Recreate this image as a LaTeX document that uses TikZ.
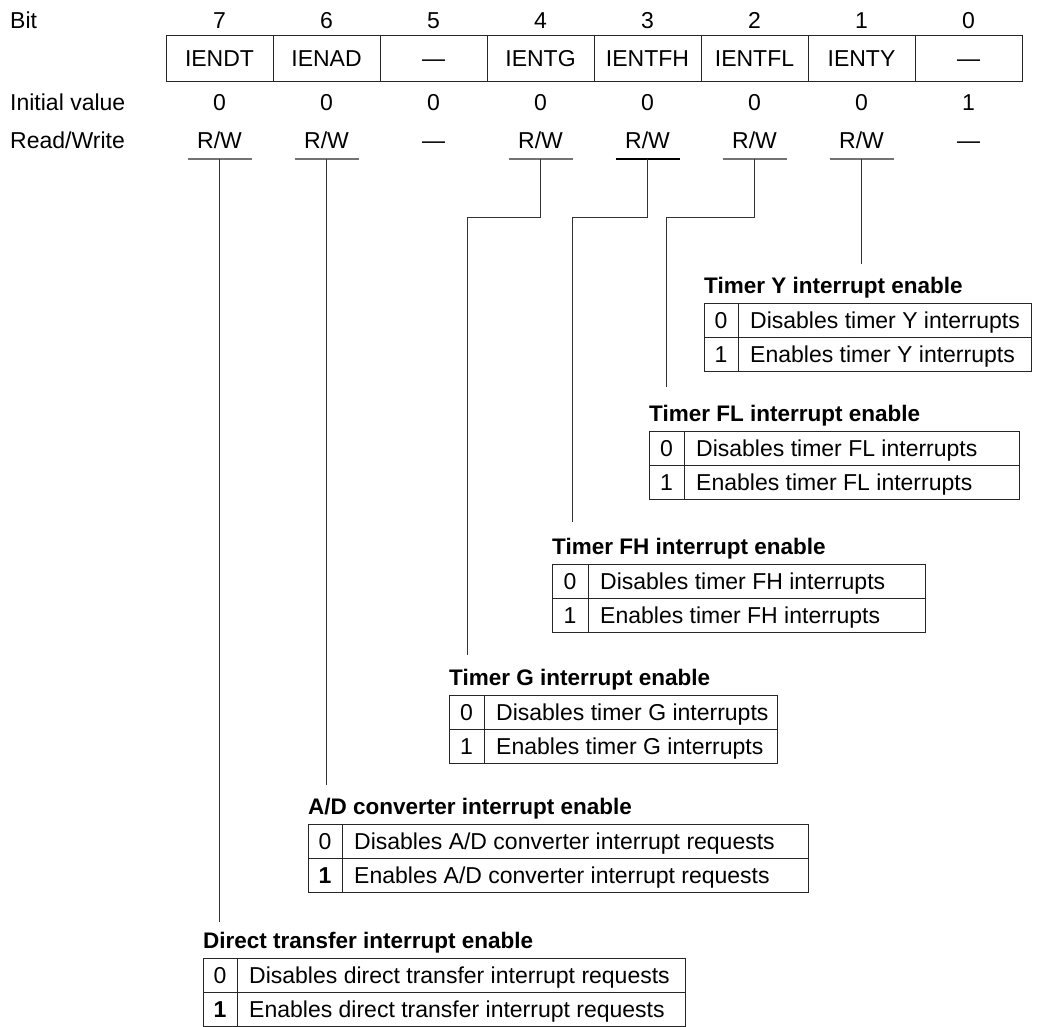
\documentclass[tikz,border=0pt]{standalone}
\usepackage{fontspec}
\setmainfont{Liberation Sans}

\tikzset{
  fnt/.style={font=\fontsize{23}{28}\selectfont, text height=16.5pt, text depth=0pt},
  txt/.style={fnt, inner sep=0pt},
  ttl/.style={font=\bfseries\fontsize{22.5}{27}\selectfont, inner sep=0pt},
  regcell/.style={fnt, draw=black!85, line width=1pt, outer sep=0pt, minimum width=107pt,
    minimum height=46pt, inner sep=0pt, anchor=north west},
  cell/.style={fnt, draw=black!85, line width=1pt, outer sep=0pt, minimum height=34pt,
    inner sep=0pt, anchor=north west},
  uline/.style={draw=black!55, line width=1.6pt},
  ulineK/.style={draw=black, line width=1.6pt},
  conn/.style={draw=black!80, line width=1pt},
}

% bit-description table: name, left, divider, right, top, title, text 0, text 1, value 1
\newcommand\enbox[9]{%
  \pgfmathsetmacro\nw{#3-#2}%
  \pgfmathsetmacro\dw{#4-#3}%
  \node[ttl, anchor=base west] (#1-t) at (#2,#5-10) {#6};
  \node[cell, minimum width=\nw pt] (#1-v0) at (#2,#5) {0};
  \node[cell, minimum width=\nw pt] (#1-v1) at (#1-v0.south west) {#9};
  \node[cell, minimum width=\dw pt] (#1-d0) at (#1-v0.north east) {};
  \node[cell, minimum width=\dw pt] (#1-d1) at (#1-v1.north east) {};
  \node[txt, anchor=west] (#1-x0) at ([xshift=12pt]#1-d0.west) {#7};
  \node[txt, anchor=west] (#1-x1) at ([xshift=12pt]#1-d1.west) {#8};
}

\begin{document}
\begin{tikzpicture}[x=1pt,y=-1pt]
\useasboundingbox[fill=white] (0,0) rectangle (1042,1026);

% row captions
\node[txt, anchor=west] (cap-bit) at (10,20) {Bit};
\node[txt, anchor=west] (cap-init) at (10,102) {Initial value};
\node[txt, anchor=west] (cap-rw) at (10,140) {Read/Write};

% register cells, bit 7 on the left
\foreach \b/\nm/\iv/\rw [count=\i from 0] in
  {7/IENDT/0/{R/W}, 6/IENAD/0/{R/W}, 5/—/0/—, 4/IENTG/0/{R/W},
   3/IENTFH/0/{R/W}, 2/IENTFL/0/{R/W}, 1/IENTY/0/{R/W}, 0/—/1/—}{
  \node[regcell] (r\b) at (166+107*\i,35) {\nm};
  \node[txt] (n\b) at (r\b.north |- 0,20) {\b};
  \node[txt] (i\b) at (r\b.north |- 0,102) {\iv};
  \node[txt] (w\b) at (r\b.north |- 0,140) {\rw};
}

% underlines below the R/W entries
\foreach \b in {7,6,4,3,2,1}{
  \coordinate (u\b) at (r\b.north |- 0,159);
}
\foreach \b in {7,6,4,2,1}{
  \draw[uline] ([xshift=-32pt]u\b) -- ([xshift=32pt]u\b);
}
\draw[ulineK] ([xshift=-32pt]u3) -- ([xshift=32pt]u3);

% description tables
\enbox{ty}{704}{738}{1031}{303}{Timer Y interrupt enable}{Disables timer Y interrupts}{Enables timer Y interrupts}{1}
\enbox{tfl}{649}{684}{1019}{431}{Timer FL interrupt enable}{Disables timer FL interrupts}{Enables timer FL interrupts}{1}
\enbox{tfh}{552}{588}{925}{564}{Timer FH interrupt enable}{Disables timer FH interrupts}{Enables timer FH interrupts}{1}
\enbox{tg}{449}{484}{777}{695}{Timer G interrupt enable}{Disables timer G interrupts}{Enables timer G interrupts}{1}
\enbox{ad}{308}{342}{808}{824}{A/D converter interrupt enable}{Disables A/D converter interrupt requests}{Enables A/D converter interrupt requests}{\textbf{1}}
\enbox{dt}{203}{237}{685}{958}{Direct transfer interrupt enable}{Disables direct transfer interrupt requests}{Enables direct transfer interrupt requests}{\textbf{1}}

% connector ends above the table titles
\coordinate (jn) at (0,217);
\coordinate (dt-in) at (u7 |- 0,922);
\coordinate (ad-in) at (u6 |- 0,785);
\coordinate (tg-in) at (467,655);
\coordinate (tfh-in) at (572,522);
\coordinate (tfl-in) at (666,387);
\coordinate (ty-in) at (u1 |- 0,264);

\draw[conn] (u7) -- (dt-in);
\draw[conn] (u6) -- (ad-in);
\draw[conn] (u4) -- (u4 |- jn) -| (tg-in);
\draw[conn] (u3) -- (u3 |- jn) -| (tfh-in);
\draw[conn] (u2) -- (u2 |- jn) -| (tfl-in);
\draw[conn] (u1) -- (ty-in);
\end{tikzpicture}
\end{document}
